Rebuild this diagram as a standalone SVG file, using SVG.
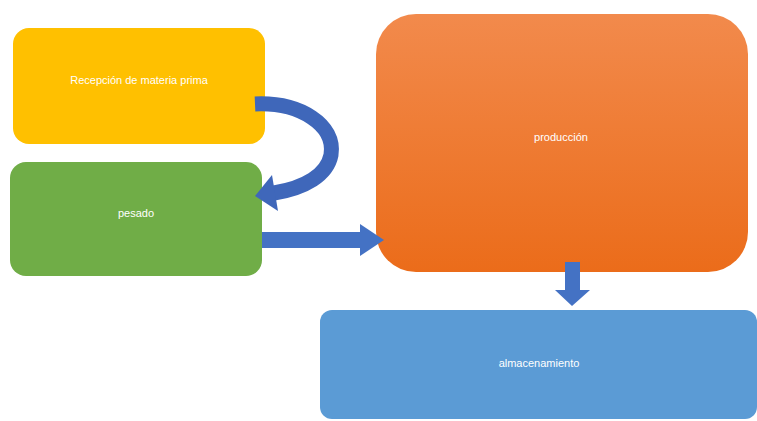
<svg xmlns="http://www.w3.org/2000/svg" width="757" height="421" viewBox="0 0 757 421">
<defs>
<linearGradient id="og" x1="0" y1="0" x2="0" y2="1">
<stop offset="0" stop-color="#F28A4C"/>
<stop offset="1" stop-color="#EB6C1A"/>
</linearGradient>
<style>
.t{font-family:"Liberation Sans",Arial,sans-serif;font-size:11px;fill:#FFFFFF;text-anchor:middle;dominant-baseline:middle}
.arr{fill:#4472C4}
</style>
</defs>
<rect width="757" height="421" fill="#FFFFFF"/>
<g id="recepcion">
<rect x="13" y="28" width="252" height="116" rx="16" fill="#FFC000"/>
<text class="t" x="139" y="81">Recepción de materia prima</text>
</g>
<g id="pesado">
<rect x="10" y="162" width="252" height="114" rx="16" fill="#70AD47"/>
<text class="t" x="136" y="214">pesado</text>
</g>
<g id="produccion">
<rect x="376" y="14" width="372" height="258" rx="40" fill="url(#og)"/>
<text class="t" x="561" y="138">producción</text>
</g>
<g id="almacenamiento">
<rect x="320" y="310" width="437" height="109" rx="12" fill="#5B9BD5"/>
<text class="t" x="539" y="364">almacenamiento</text>
</g>
<g id="connectors">
<path d="M255,104 C300,102 336,125 331,155 C327,175 305,188 274,193" fill="none" stroke="#3F67BA" stroke-width="15"/>
<polygon points="272,175 278,211 255,196" fill="#3F67BA"/>
<polygon class="arr" points="262,232 360,232 360,224 384,240 360,256 360,248 262,248"/>
<polygon class="arr" points="565,262 580,262 580,290 590,290 572,306 555,290 565,290"/>
</g>
</svg>
